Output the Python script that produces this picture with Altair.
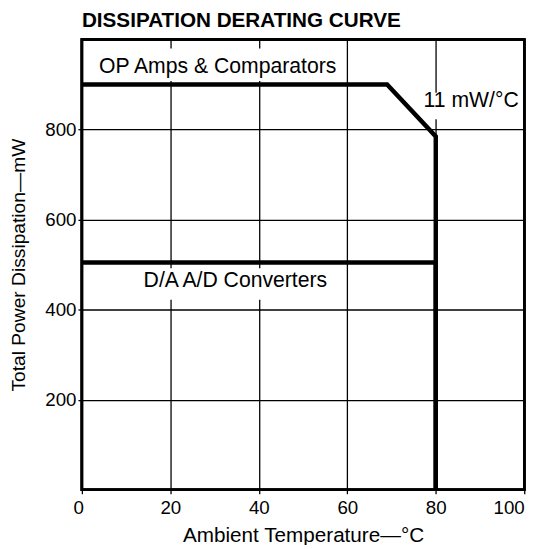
import altair as alt
import pandas as pd

# Curve data (ambient temperature °C, total power dissipation mW)
op_x = [0, 69, 80, 80]
op_y = [900, 900, 785, 0]
da_x = [0, 80, 80]
da_y = [505, 505, 0]

# Annotation labels
label_text = ["OP Amps & Comparators", "11 mW/°C", "D/A A/D Converters"]
label_x = [30.7, 88.0, 34.7]
label_y = [938, 864, 463]

# White knock-out boxes behind labels (interrupt grid lines)
box_x1 = [1.5, 75.5, 13.8]
box_x2 = [57.0, 98.4, 56.0]
box_y1 = [908, 823, 422]
box_y2 = [980, 882, 492]

x_ticks = [0, 20, 40, 60, 80, 100]
y_ticks = [200, 400, 600, 800]

FONT = "Liberation Sans"
W, H = 449, 457

rows = []
for i, (x, y) in enumerate(zip(op_x, op_y)):
    rows.append({"series": "op", "order": i, "x": x, "y": y})
for i, (x, y) in enumerate(zip(da_x, da_y)):
    rows.append({"series": "da", "order": i, "x": x, "y": y})
lines_df = pd.DataFrame(rows)

labels_df = pd.DataFrame({"text": label_text, "x": label_x, "y": label_y})
boxes_df = pd.DataFrame({"x1": box_x1, "x2": box_x2, "y1": box_y1, "y2": box_y2})

xscale = alt.Scale(domain=[0, 100], nice=False, zero=False)
yscale = alt.Scale(domain=[0, 1000], nice=False, zero=False)

xaxis = alt.Axis(
    values=x_ticks, title="Ambient Temperature—°C", grid=True,
    gridColor="black", gridWidth=1.3, gridOpacity=1,
    domain=False, tickColor="black", tickSize=4, tickWidth=1.3,
    labelFont=FONT, labelFontSize=19, labelColor="black", labelPadding=5,
    labelOffset=alt.condition("datum.value == 0", alt.value(-9), alt.value(0)),
    titleFont=FONT, titleFontSize=21, titleFontWeight="normal", titleColor="black",
    titleBaseline="alphabetic", titleY=52,
)
yaxis = alt.Axis(
    values=y_ticks, title="Total Power Dissipation—mW", grid=True,
    gridColor="black", gridWidth=1.3, gridOpacity=1,
    domain=False, tickColor="black", tickSize=4, tickWidth=1.3,
    labelFont=FONT, labelFontSize=19, labelColor="black", labelPadding=2,
    titleFont=FONT, titleFontSize=19.5, titleFontWeight="normal", titleColor="black",
    titleBaseline="alphabetic", titleX=-58,
)

boxes = alt.Chart(boxes_df).mark_rect(color="white").encode(
    x=alt.X("x1:Q", scale=xscale, axis=xaxis),
    x2="x2:Q",
    y=alt.Y("y1:Q", scale=yscale, axis=yaxis),
    y2="y2:Q",
)

frame = alt.Chart(boxes_df).mark_rect(
    filled=False, stroke="black", strokeWidth=2.5, fillOpacity=0
).encode(
    x=alt.value(0), x2=alt.value(W), y=alt.value(0), y2=alt.value(H)
)

lines = alt.Chart(lines_df).mark_line(color="black", strokeWidth=4.5, strokeJoin="miter").encode(
    x=alt.X("x:Q", scale=xscale),
    y=alt.Y("y:Q", scale=yscale),
    detail="series:N",
    order="order:Q",
)

labels = alt.Chart(labels_df).mark_text(
    font=FONT, fontSize=21.5, color="black", align="center", baseline="middle"
).encode(
    x=alt.X("x:Q", scale=xscale),
    y=alt.Y("y:Q", scale=yscale),
    text="text:N",
)

chart = alt.layer(boxes, frame, lines, labels).properties(
    width=W,
    height=H,
    title=alt.TitleParams(
        "DISSIPATION DERATING CURVE", anchor="start", frame="group",
        font=FONT, fontSize=21, fontWeight="bold", color="black", offset=7,
    ),
    autosize=alt.AutoSizeParams(type="none"),
    padding={"left": 75, "top": 28, "right": 16, "bottom": 52},
).configure(
    background="white"
).configure_view(
    stroke="black", strokeWidth=2.5
)

chart.save("out.html", embed_options={"renderer": "svg", "actions": False})
